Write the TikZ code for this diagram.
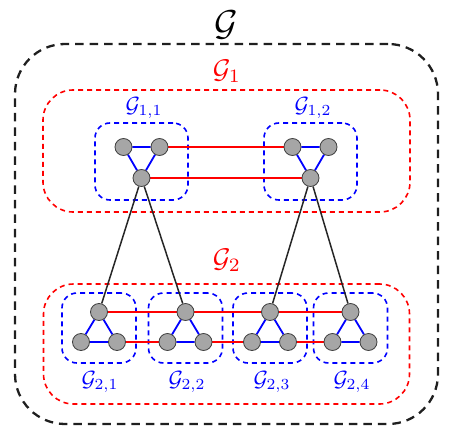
\documentclass[tikz,border=0pt]{standalone}
\usetikzlibrary{backgrounds}
\begin{document}
\begin{tikzpicture}[x=1pt,y=-1pt,
  vtx/.style={circle,draw=black!75,fill=black!35,line width=0.8pt,minimum size=17pt,inner sep=0pt},
  outerbox/.style={rectangle,draw=black!88,line width=2.3pt,dash pattern=on 8.5pt off 6pt,rounded corners=50pt,inner sep=0pt},
  redbox/.style={rectangle,draw=red,line width=1.6pt,dash pattern=on 5pt off 4pt,rounded corners=30pt,inner sep=0pt},
  bluebox/.style={rectangle,draw=blue,line width=1.6pt,dash pattern=on 5pt off 4pt,rounded corners=15pt,inner sep=0pt},
  bedge/.style={draw=blue,line width=1.8pt},
  redge/.style={draw=red,line width=1.4pt},
  kedge/.style={draw=black!85,line width=1.5pt},
  biglab/.style={scale=3.6},
  midlab/.style={text=red,scale=2.7},
  smalllab/.style={text=blue,scale=2.2}]
\useasboundingbox (0,0) rectangle (455,436);
% labels
\node[biglab] (lG) at (226,25) {$\mathcal{G}$};
\node[midlab] (lG1) at (227,71) {$\mathcal{G}_1$};
\node[midlab] (lG2) at (227,260) {$\mathcal{G}_2$};
\node[smalllab] (lG11) at (144,108) {$\mathcal{G}_{1,1}$};
\node[smalllab] (lG12) at (313,108) {$\mathcal{G}_{1,2}$};
\node[smalllab] (lG21) at (100,382) {$\mathcal{G}_{2,1}$};
\node[smalllab] (lG22) at (187,382) {$\mathcal{G}_{2,2}$};
\node[smalllab] (lG23) at (272,382) {$\mathcal{G}_{2,3}$};
\node[smalllab] (lG24) at (352,382) {$\mathcal{G}_{2,4}$};
% vertices G1
\node[vtx] (a1) at (123.5,147) {};
\node[vtx] (b1) at (159.5,147) {};
\node[vtx] (c1) at (141.5,178) {};
\node[vtx] (a2) at (292.5,147) {};
\node[vtx] (b2) at (328.5,147) {};
\node[vtx] (c2) at (310.5,178) {};
% vertices G2
\foreach \i/\cx in {1/99,2/185.5,3/270,4/350.5}{
  \node[vtx] (t\i) at (\cx,312) {};
  \node[vtx] (l\i) at (\cx-18,342) {};
  \node[vtx] (r\i) at (\cx+18,342) {};
}
\begin{scope}[on background layer]
  % boxes
  \node[outerbox,minimum width=423pt,minimum height=380pt] (Gbox) at (226.5,234) {};
  \node[redbox,minimum width=367pt,minimum height=122pt] (G1box) at (226.5,151) {};
  \node[redbox,minimum width=366pt,minimum height=120pt] (G2box) at (226.5,344) {};
  \node[bluebox,minimum width=93pt,minimum height=77pt] (G11box) at (141.5,161.5) {};
  \node[bluebox,minimum width=93pt,minimum height=77pt] (G12box) at (310.5,161.5) {};
  \foreach \i/\cx in {1/99,2/185.5,3/270,4/350.5}{
    \node[bluebox,minimum width=74pt,minimum height=70pt] (G2\i box) at (\cx,328) {};
  }
  % triangles
  \draw[bedge] (a1) -- (b1) -- (c1) -- (a1);
  \draw[bedge] (a2) -- (b2) -- (c2) -- (a2);
  \foreach \i in {1,2,3,4}{
    \draw[bedge] (t\i) -- (l\i) -- (r\i) -- (t\i);
  }
  % red edges
  \draw[redge] (b1) -- (a2);
  \draw[redge] (c1) -- (c2);
  \draw[redge] (t1) -- (t2);
  \draw[redge] (t2) -- (t3);
  \draw[redge] (t3) -- (t4);
  \draw[redge] (r1) -- (l2);
  \draw[redge] (r2) -- (l3);
  \draw[redge] (r3) -- (l4);
  % black edges
  \draw[kedge] (c1) -- (t1);
  \draw[kedge] (c1) -- (t2);
  \draw[kedge] (c2) -- (t3);
  \draw[kedge] (c2) -- (t4);
\end{scope}
\end{tikzpicture}
\end{document}
